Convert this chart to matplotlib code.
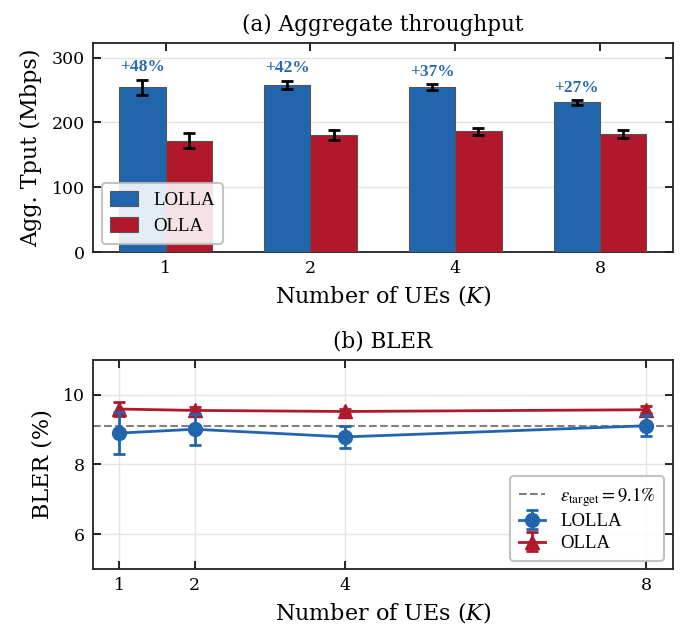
import numpy as np
import matplotlib
matplotlib.use("Agg")
import matplotlib.pyplot as plt
from matplotlib.font_manager import FontProperties

plt.rcParams["font.family"] = "DejaVu Serif"
plt.rcParams["mathtext.fontset"] = "dejavuserif"

BLUE = "#2166ac"
RED = "#b2182b"

# data
ues = [1, 2, 4, 8]
ue_labels = ["1", "2", "4", "8"]
lolla_tput = [254, 258, 255, 231]
lolla_tput_err = [12, 6.5, 4.5, 4]
olla_tput = [172, 181, 186, 182]
olla_tput_err = [11.5, 8, 5.5, 5.5]
gain_labels = ["+48%", "+42%", "+37%", "+27%"]

lolla_bler = [8.90, 9.01, 8.79, 9.11]
lolla_bler_err = [0.60, 0.44, 0.31, 0.30]
olla_bler = [9.59, 9.55, 9.52, 9.57]
olla_bler_err = [0.20, 0.10, 0.06, 0.10]
bler_target = 9.1

fig = plt.figure(figsize=(6.8, 6.27), dpi=100)
ax1 = fig.add_axes([0.137, 0.598, 0.852, 0.333])
ax2 = fig.add_axes([0.137, 0.0925, 0.852, 0.3335])

LABEL_FS = 16
TITLE_FS = 15.5


def style(ax):
    ax.tick_params(direction="in", length=6, width=1.2, labelsize=12.5,
                   top=True, right=True, pad=6)
    for s in ax.spines.values():
        s.set_linewidth(1.3)
        s.set_color("#222222")


# (a) throughput bars
x = np.arange(len(ues))
w = 0.32
ax1.bar(x - w / 2, lolla_tput, w, yerr=lolla_tput_err, color=BLUE,
        edgecolor="#555555", linewidth=0.8, label="LOLLA", zorder=3,
        error_kw=dict(ecolor="black", elinewidth=2, capsize=4.5, capthick=2))
ax1.bar(x + w / 2, olla_tput, w, yerr=olla_tput_err, color=RED,
        edgecolor="#555555", linewidth=0.8, label="OLLA", zorder=3,
        error_kw=dict(ecolor="black", elinewidth=2, capsize=4.5, capthick=2))
for xi, v, e, lab in zip(x, lolla_tput, lolla_tput_err, gain_labels):
    ax1.annotate(lab, (xi - w / 2, v + e), xytext=(0, 3),
                 textcoords="offset points", ha="center", va="bottom",
                 color="#2a6ab4", fontweight="bold", fontsize=12.5,
                 family="Liberation Serif")
ax1.set_xticks(x)
ax1.set_xticklabels(ue_labels)
ax1.set_xlim(-0.5, 3.5)
ax1.set_ylim(0, 322)
ax1.set_yticks([0, 100, 200, 300])
ax1.grid(axis="y", color="#e4e4e4", linewidth=1, zorder=0)
ax1.set_axisbelow(True)
ax1.set_ylabel("Agg. Tput (Mbps)", fontsize=LABEL_FS, labelpad=7)
ax1.set_xlabel("Number of UEs ($K$)", fontsize=LABEL_FS)
ax1.set_title("(a) Aggregate throughput", fontsize=TITLE_FS, pad=9)
style(ax1)
leg1 = ax1.legend(loc="lower left",
                  prop=FontProperties(family="Liberation Serif", size=13.5),
                  frameon=True, fancybox=True, framealpha=0.88,
                  edgecolor="#bbbbbb", handlelength=1.5, handleheight=0.8,
                  borderpad=0.45, labelspacing=0.45, borderaxespad=0.45)
leg1.get_frame().set_linewidth(1.5)

# (b) BLER
ax2.axhline(bler_target, color="gray", linestyle="--", linewidth=1.5,
            label=r"$\varepsilon_{\mathrm{target}} = 9.1\%$", zorder=2)
ax2.errorbar(ues, lolla_bler, yerr=lolla_bler_err, color=BLUE, marker="o",
             markersize=10, linewidth=2, elinewidth=2, capsize=4.5, capthick=2,
             label="LOLLA", zorder=4)
ax2.errorbar(ues, olla_bler, yerr=olla_bler_err, color=RED, marker="^",
             markersize=10, linewidth=2, elinewidth=2, capsize=4.5, capthick=2,
             label="OLLA", zorder=3)
ax2.set_xticks(ues)
ax2.set_xticklabels(ue_labels)
ax2.set_ylim(5, 11)
ax2.set_yticks([6, 8, 10])
ax2.grid(color="#e4e4e4", linewidth=1, zorder=0)
ax2.set_axisbelow(True)
ax2.set_ylabel("BLER (%)", fontsize=LABEL_FS, labelpad=7)
ax2.set_xlabel("Number of UEs ($K$)", fontsize=LABEL_FS)
ax2.set_title("(b) BLER", fontsize=TITLE_FS, pad=9)
style(ax2)
leg2 = ax2.legend(loc="lower right",
                  prop=FontProperties(family="Liberation Serif", size=13.5,
                                      math_fontfamily="stix"),
                  frameon=True, fancybox=True, framealpha=0.88,
                  edgecolor="#bbbbbb", handlelength=1.4,
                  borderpad=0.45, labelspacing=0.25, borderaxespad=0.45)
leg2.get_frame().set_linewidth(1.5)

fig.savefig("out.png", dpi=100)
